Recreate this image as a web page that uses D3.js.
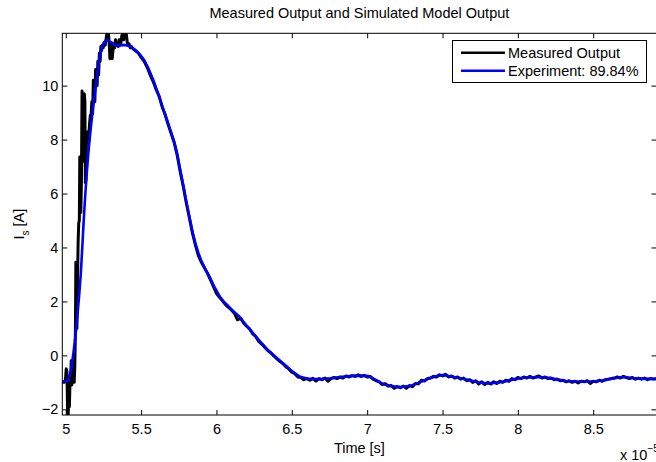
<!DOCTYPE html>
<html>
<head>
<meta charset="utf-8">
<script src="https://cdn.jsdelivr.net/npm/d3@7/dist/d3.min.js"></script>
<style>
  html, body { margin: 0; padding: 0; background: #fff; }
  svg { display: block; font-family: "Liberation Sans", Arial, Helvetica, sans-serif; }
</style>
</head>
<body>
<svg id="chart" width="656" height="462"></svg>
<script>
// ---------------- data ----------------
const titleText = "Measured Output and Simulated Model Output";
const xLabelText = "Time [s]";
const xTicks = [5, 5.5, 6, 6.5, 7, 7.5, 8, 8.5];
const xTickLabels = ["5", "5.5", "6", "6.5", "7", "7.5", "8", "8.5"];
const yTicks = [-2, 0, 2, 4, 6, 8, 10];
const yTickLabels = ["\u22122", "0", "2", "4", "6", "8", "10"];
const xDomain = [4.977, 8.92];
const yDomain = [-2.21, 11.94];
const seriesNames = ["Measured Output", "Experiment: 89.84%"];
const seriesColors = ["#000000", "#0000ff"];

// measured output [time (x1e-5 s), current (A)]
const measuredPoints = [
  [4.977,-1.00],[4.990,-1.00],[4.998,-0.90],[5.003,-0.50],[5.008,-0.60],[5.012,-2.10],[5.016,-2.20],
  [5.020,-1.50],[5.024,-1.90],[5.028,-1.00],[5.032,-1.10],[5.036,-0.20],[5.040,-1.10],[5.044,-0.30],
  [5.048,-1.00],[5.052,-0.20],[5.056,-1.00],[5.060,-0.40],[5.064,0.90],[5.067,3.45],[5.071,3.40],
  [5.074,1.00],[5.078,2.70],[5.082,4.20],[5.086,4.90],[5.090,5.00],[5.093,7.35],[5.097,7.30],
  [5.100,5.30],[5.104,6.50],[5.108,9.80],[5.112,9.50],[5.115,7.20],[5.119,9.50],[5.123,9.70],
  [5.127,9.40],[5.130,6.40],[5.134,6.50],[5.138,8.20],[5.143,7.90],[5.148,8.30],[5.153,8.10],
  [5.158,8.60],[5.163,8.90],[5.168,8.90],[5.173,9.40],[5.178,8.95],[5.183,10.20],[5.188,10.00],
  [5.193,9.40],[5.198,10.60],[5.203,10.30],[5.208,10.00],[5.213,10.90],[5.218,10.40],[5.223,11.20],
  [5.228,10.90],[5.233,11.45],[5.238,11.30],[5.243,11.50],[5.248,11.40],[5.255,11.60],[5.262,11.50],
  [5.268,11.75],[5.273,11.95],[5.278,11.80],[5.283,11.95],[5.288,11.60],[5.293,11.00],[5.298,11.10],
  [5.303,11.60],[5.308,11.00],[5.313,11.30],[5.318,11.55],[5.324,11.40],[5.330,11.70],[5.336,11.50],
  [5.342,11.60],[5.348,11.45],[5.354,11.70],[5.360,11.50],[5.366,11.60],[5.372,11.85],[5.378,11.95],
  [5.384,11.70],[5.390,11.95],[5.396,11.80],[5.402,11.90],[5.408,11.60],[5.414,11.50],[5.420,11.55],
  [5.428,11.40],[5.436,11.45],[5.44,11.40],[5.46,11.30],[5.48,11.22],[5.50,11.05],[5.52,10.90],
  [5.54,10.68],[5.56,10.40],[5.58,10.15],[5.60,9.85],[5.62,9.60],[5.64,9.20],[5.66,8.92],[5.68,8.55],
  [5.70,8.22],[5.72,7.88],[5.74,7.40],[5.76,6.80],[5.78,6.25],[5.80,5.65],[5.82,5.10],[5.84,4.55],
  [5.86,4.10],[5.88,3.70],[5.90,3.45],[5.92,3.25],[5.94,3.05],[5.96,2.80],[5.98,2.55],[6.00,2.30],
  [6.02,2.15],[6.04,2.02],[6.06,1.88],[6.08,1.78],[6.10,1.68],[6.12,1.55],[6.14,1.32],[6.16,1.38],
  [6.18,1.20],[6.20,1.08],[6.22,0.98],[6.24,0.80],[6.26,0.70],[6.28,0.52],[6.30,0.42],[6.32,0.30],
  [6.34,0.18],[6.36,0.10],[6.38,-0.02],[6.40,-0.12],[6.42,-0.22],[6.44,-0.30],[6.46,-0.42],[6.48,-0.50],
  [6.50,-0.62],[6.52,-0.68],[6.54,-0.80],[6.56,-0.82],[6.58,-0.90],[6.60,-0.86],[6.62,-0.92],[6.64,-0.85],
  [6.66,-0.95],[6.68,-0.86],[6.70,-0.90],[6.72,-0.84],[6.74,-0.96],[6.76,-0.86],[6.78,-0.82],[6.80,-0.86],
  [6.82,-0.80],[6.84,-0.84],[6.86,-0.76],[6.88,-0.80],[6.90,-0.75],[6.92,-0.78],[6.94,-0.72],[6.96,-0.78],
  [6.98,-0.74],[7.00,-0.80],[7.02,-0.78],[7.04,-0.88],[7.06,-0.94],[7.08,-0.98],[7.10,-1.08],[7.12,-1.05],
  [7.14,-1.14],[7.16,-1.12],[7.18,-1.22],[7.20,-1.16],[7.22,-1.20],[7.24,-1.14],[7.26,-1.22],[7.28,-1.12],
  [7.30,-1.16],[7.32,-1.04],[7.34,-1.05],[7.36,-0.92],[7.38,-0.95],[7.40,-0.86],[7.42,-0.84],[7.44,-0.78],
  [7.46,-0.80],[7.48,-0.72],[7.50,-0.76],[7.52,-0.70],[7.54,-0.80],[7.56,-0.76],[7.58,-0.84],[7.60,-0.80],
  [7.62,-0.88],[7.64,-0.84],[7.66,-0.94],[7.68,-0.90],[7.70,-1.00],[7.72,-0.94],[7.74,-1.06],[7.76,-0.98],
  [7.78,-1.08],[7.80,-1.00],[7.82,-1.06],[7.84,-0.98],[7.86,-1.04],[7.88,-0.96],[7.90,-1.00],[7.92,-0.92],
  [7.94,-0.96],[7.96,-0.86],[7.98,-0.90],[8.00,-0.82],[8.02,-0.86],[8.04,-0.80],[8.06,-0.84],[8.08,-0.78],
  [8.10,-0.84],[8.12,-0.80],[8.14,-0.76],[8.16,-0.84],[8.18,-0.80],[8.20,-0.86],[8.22,-0.84],[8.24,-0.90],
  [8.26,-0.88],[8.28,-0.94],[8.30,-0.92],[8.32,-0.98],[8.34,-0.94],[8.36,-1.00],[8.38,-0.96],[8.40,-1.02],
  [8.42,-0.96],[8.44,-0.98],[8.46,-0.94],[8.48,-1.04],[8.50,-0.96],[8.52,-0.98],[8.54,-0.92],[8.56,-0.96],
  [8.58,-0.90],[8.60,-0.88],[8.62,-0.86],[8.64,-0.84],[8.66,-0.80],[8.68,-0.84],[8.70,-0.78],[8.72,-0.82],
  [8.74,-0.86],[8.76,-0.82],[8.78,-0.88],[8.80,-0.84],[8.82,-0.88],[8.84,-0.84],[8.86,-0.90],[8.88,-0.86],
  [8.90,-0.88],[8.92,-0.86]
];

// simulated model output [time (x1e-5 s), current (A)]
const modelPoints = [
  [4.977,-0.97],[5.000,-0.97],[5.015,-0.93],[5.030,-0.65],[5.040,-0.35],[5.050,0.05],[5.060,0.50],
  [5.070,1.05],[5.080,1.65],[5.090,2.30],[5.100,3.05],[5.110,4.05],[5.120,5.10],[5.130,6.00],
  [5.140,6.80],[5.150,7.50],[5.160,8.10],[5.175,8.90],[5.190,9.60],[5.205,10.25],[5.220,10.90],
  [5.235,11.30],[5.250,11.55],[5.265,11.67],[5.280,11.68],[5.295,11.62],[5.310,11.55],[5.330,11.50],
  [5.350,11.49],[5.370,11.51],[5.400,11.50],[5.430,11.45],[5.460,11.33],[5.490,11.17],[5.520,10.95],
  [5.550,10.62],[5.580,10.22],[5.610,9.75],[5.640,9.25],[5.670,8.75],[5.700,8.25],[5.720,7.90],
  [5.740,7.45],[5.760,6.85],[5.780,6.30],[5.800,5.70],[5.820,5.15],[5.840,4.60],[5.860,4.15],
  [5.880,3.80],[5.900,3.50],[5.930,3.15],[5.960,2.85],[5.990,2.50],[6.020,2.20],[6.050,1.98],
  [6.080,1.82],[6.110,1.65],[6.150,1.45],[6.200,1.10],[6.250,0.78],[6.300,0.45],[6.350,0.15],
  [6.400,-0.10],[6.450,-0.33],[6.500,-0.58],[6.550,-0.78],[6.600,-0.86],[6.650,-0.88],[6.700,-0.87],
  [6.760,-0.85],[6.820,-0.80],[6.900,-0.76],[6.960,-0.75],[7.010,-0.77],[7.060,-0.92],[7.100,-1.05],
  [7.160,-1.14],[7.220,-1.17],[7.280,-1.14],[7.340,-1.02],[7.400,-0.88],[7.450,-0.78],[7.500,-0.73],
  [7.560,-0.78],[7.620,-0.85],[7.680,-0.92],[7.740,-1.00],[7.800,-1.04],[7.860,-1.01],[7.920,-0.96],
  [7.980,-0.88],[8.040,-0.83],[8.100,-0.81],[8.180,-0.81],[8.250,-0.88],[8.320,-0.95],[8.400,-0.97],
  [8.480,-0.97],[8.560,-0.94],[8.640,-0.85],[8.700,-0.80],[8.760,-0.84],[8.820,-0.86],[8.920,-0.87]
];

// ---------------- layout ----------------
const W = 656, H = 462;
const m = { left: 62.3, right: 656.5, top: 33.3, bottom: 415 };
const fontSize = 14.5;

const svg = d3.select("#chart");
svg.append("rect").attr("width", W).attr("height", H).attr("fill", "#fff");

const x = d3.scaleLinear().domain(xDomain).range([m.left, m.right]);
const y = d3.scaleLinear().domain(yDomain).range([m.bottom, m.top]);

svg.append("defs").append("clipPath").attr("id", "plotclip")
  .append("rect")
  .attr("x", m.left).attr("y", m.top)
  .attr("width", m.right - m.left).attr("height", m.bottom - m.top);

// lines
const line = d3.line().x(d => x(d[0])).y(d => y(d[1]));
const plot = svg.append("g").attr("clip-path", "url(#plotclip)");
plot.append("path").datum(measuredPoints)
  .attr("d", line).attr("fill", "none")
  .attr("stroke", seriesColors[0]).attr("stroke-width", 3)
  .attr("stroke-linejoin", "round").attr("stroke-linecap", "round");
plot.append("path").datum(modelPoints)
  .attr("d", line).attr("fill", "none")
  .attr("stroke", seriesColors[1]).attr("stroke-width", 2.6)
  .attr("stroke-linejoin", "round").attr("stroke-linecap", "round");

// axes
function styleAxis(g) {
  g.select(".domain").remove();
  g.selectAll(".tick line").attr("stroke", "#000").attr("stroke-width", 1);
  g.selectAll(".tick text").attr("fill", "#000")
    .style("font-size", fontSize + "px")
    .style("font-family", "'Liberation Sans', Arial, Helvetica, sans-serif");
}
const tickLen = 5;
svg.append("g").attr("transform", `translate(0,${m.bottom})`)
  .call(d3.axisBottom(x).tickValues(xTicks).tickSize(-tickLen).tickPadding(9)
    .tickFormat((d, i) => xTickLabels[i]))
  .call(styleAxis);
svg.append("g").attr("transform", `translate(0,${m.top})`)
  .call(d3.axisTop(x).tickValues(xTicks).tickSize(-tickLen).tickFormat(""))
  .call(styleAxis);
svg.append("g").attr("transform", `translate(${m.left},0)`)
  .call(d3.axisLeft(y).tickValues(yTicks).tickSize(-tickLen).tickPadding(4)
    .tickFormat((d, i) => yTickLabels[i]))
  .call(styleAxis);
svg.append("g").attr("transform", `translate(${m.right},0)`)
  .call(d3.axisRight(y).tickValues(yTicks).tickSize(-tickLen).tickFormat(""))
  .call(styleAxis);

// box
svg.append("rect")
  .attr("x", m.left).attr("y", m.top)
  .attr("width", m.right - m.left).attr("height", m.bottom - m.top)
  .attr("fill", "none").attr("stroke", "#000").attr("stroke-width", 1);

// title
svg.append("text")
  .attr("x", (m.left + m.right) / 2).attr("y", 18)
  .attr("text-anchor", "middle").style("font-size", fontSize + "px")
  .text(titleText);

// x label
svg.append("text")
  .attr("x", (m.left + m.right) / 2).attr("y", 453)
  .attr("text-anchor", "middle").style("font-size", fontSize + "px")
  .text(xLabelText);

// exponent label
const ex = svg.append("text").attr("x", 620).attr("y", 460).style("font-size", fontSize + "px");
ex.append("tspan").text("x 10");
ex.append("tspan").attr("dy", -8).style("font-size", "10px").text("\u22125");

// y label
const yl = svg.append("text")
  .attr("transform", `translate(24,${(m.top + m.bottom) / 2}) rotate(-90)`)
  .attr("text-anchor", "middle").style("font-size", fontSize + "px");
yl.append("tspan").text("I");
yl.append("tspan").attr("dy", 5).style("font-size", "10px").text("s");
yl.append("tspan").attr("dy", -5).text(" [A]");

// legend
const lg = svg.append("g");
lg.append("rect").attr("x", 452.5).attr("y", 40.5).attr("width", 194).attr("height", 42)
  .attr("fill", "#fff").attr("stroke", "#000").attr("stroke-width", 1);
const lgRows = [52.7, 70.7];
seriesNames.forEach((name, i) => {
  lg.append("line").attr("x1", 461).attr("x2", 505).attr("y1", lgRows[i]).attr("y2", lgRows[i])
    .attr("stroke", seriesColors[i]).attr("stroke-width", 2.6);
  lg.append("text").attr("x", 508).attr("y", lgRows[i] + 5).style("font-size", fontSize + "px")
    .text(name);
});
</script>
</body>
</html>
